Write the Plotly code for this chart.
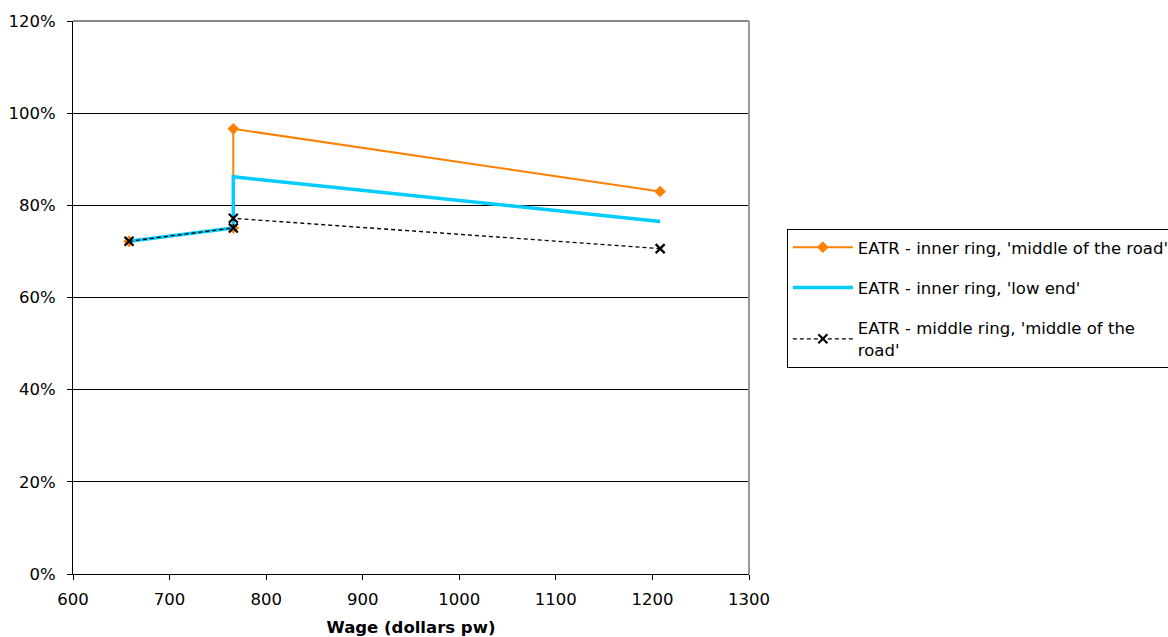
import plotly.graph_objects as go

# Weekly wage (dollars) and effective average tax rate for each scenario
wage_inner_mid = [658, 766, 766, 1208]
eatr_inner_mid = [0.722, 0.751, 0.966, 0.830]

wage_inner_low = [658, 766, 766, 1208]
eatr_inner_low = [0.722, 0.751, 0.862, 0.765]

wage_middle_mid = [658, 766, 766, 1208]
eatr_middle_mid = [0.722, 0.751, 0.772, 0.706]

y_ticks = [0, 0.2, 0.4, 0.6, 0.8, 1.0, 1.2]
x_ticks = [600, 700, 800, 900, 1000, 1100, 1200, 1300]

FONT = "DejaVu Sans, Verdana, sans-serif"
FS = 16.5

fig = go.Figure()

fig.add_trace(go.Scatter(
    x=wage_inner_mid, y=eatr_inner_mid, mode="lines+markers",
    name="EATR - inner ring, 'middle of the road'",
    line=dict(color="#FF8000", width=2),
    marker=dict(symbol="diamond", size=9, color="#FF8000"),
    legendgroup="a",
))
fig.add_trace(go.Scatter(
    x=wage_inner_low, y=eatr_inner_low, mode="lines",
    name="EATR - inner ring, 'low end'",
    line=dict(color="#00CCFF", width=3.5),
    legendgroup="b",
))
fig.add_trace(go.Scatter(
    x=wage_middle_mid, y=eatr_middle_mid, mode="lines+markers",
    name="EATR - middle ring, 'middle of the<br>road'",
    line=dict(color="black", width=1.3, dash="4px,3px"),
    marker=dict(symbol="x-thin", size=9, line=dict(color="black", width=2.2)),
    legendgroup="c",
))

# Grey frame along the top and right of the plot area
fig.add_shape(type="line", xref="x domain", yref="y domain", x0=0, x1=1, y0=1, y1=1,
              line=dict(color="#888888", width=2), layer="above")
fig.add_shape(type="line", xref="x domain", yref="y domain", x0=1, x1=1, y0=0, y1=1,
              line=dict(color="#999999", width=2), layer="above")

fig.update_layout(
    width=1168, height=637,
    margin=dict(l=73, r=419, t=21, b=63, autoexpand=False),
    paper_bgcolor="white", plot_bgcolor="white",
    font=dict(family=FONT, size=FS, color="black"),
    showlegend=True,
    legend=dict(
        x=1.056, y=0.624, xanchor="left", yanchor="top",
        bordercolor="black", borderwidth=1,
        font=dict(family=FONT, size=16.5, color="black"),
        itemwidth=60, tracegroupgap=16,
    ),
    xaxis=dict(
        range=[600, 1300], tickvals=x_ticks, showgrid=False, zeroline=False,
        showline=True, linecolor="black", linewidth=1,
        ticks="outside", ticklen=5, tickcolor="black", ticklabelstandoff=5,
        title=dict(text="<b>Wage (dollars pw)</b>", font=dict(family=FONT, size=FS), standoff=13),
    ),
    yaxis=dict(
        range=[0, 1.2], tickvals=y_ticks, tickformat=".0%",
        showgrid=True, gridcolor="black", gridwidth=1, zeroline=False,
        showline=True, linecolor="black", linewidth=1,
        ticks="outside", ticklen=5, tickcolor="black", ticklabelstandoff=8,
    ),
)

fig.write_html("out.html")
